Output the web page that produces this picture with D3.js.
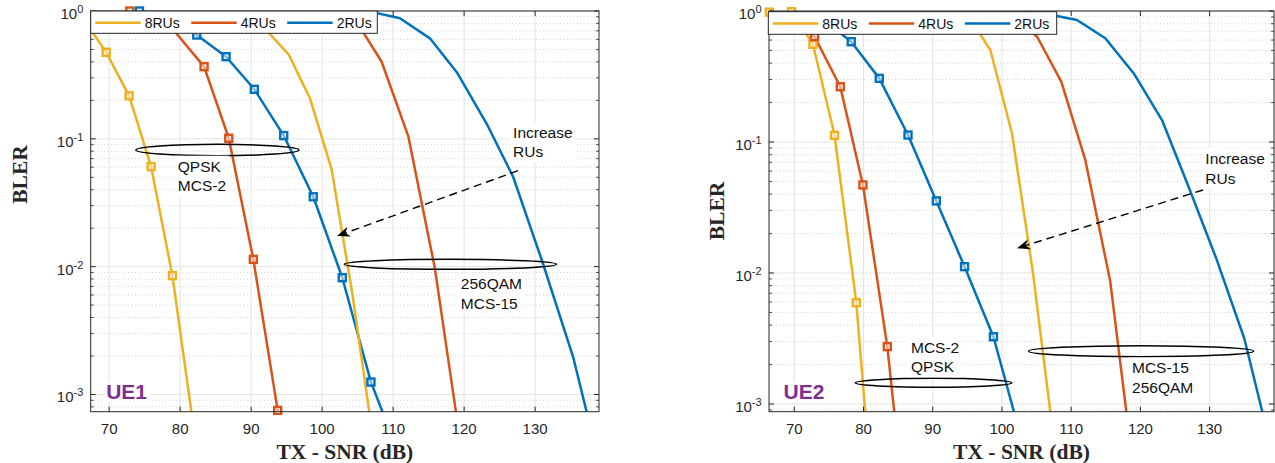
<!DOCTYPE html>
<html>
<head>
<meta charset="utf-8">
<script src="https://cdn.jsdelivr.net/npm/d3@7"></script>
<style>
  body { margin: 0; background: #fff; }
  svg { display: block; }
  text { font-family: "Liberation Sans", Arial, Helvetica, sans-serif; }
</style>
</head>
<body>
<svg id="chart" width="1275" height="463"></svg>
<script>
// ---------------- data ----------------
const seriesNames = ["8RUs", "4RUs", "2RUs"];
const xTicks = [70, 80, 90, 100, 110, 120, 130];
const yTickExps = [0, -1, -2, -3];

// UE1 – QPSK, MCS-2 (square markers)
const ue1_8RUs_mcs2_snr  = [66.5, 69.58, 72.81, 75.91, 78.91, 82.0];
const ue1_8RUs_mcs2_bler = [0.85, 0.475, 0.217, 0.0605, 0.0085, 0.0005];
const ue1_4RUs_mcs2_snr  = [72.91, 76.0, 78.8, 83.37, 86.85, 90.31, 93.74, 97.2];
const ue1_4RUs_mcs2_bler = [1.0, 0.92, 0.74, 0.367, 0.101, 0.0114, 0.00075, 0.00003];
const ue1_2RUs_mcs2_snr  = [74.27, 78.2, 82.34, 86.47, 90.45, 94.59, 98.75, 102.84, 106.88, 110.9];
const ue1_2RUs_mcs2_bler = [1.0, 0.88, 0.649, 0.439, 0.244, 0.106, 0.0352, 0.00819, 0.00125, 0.00033];
// UE1 – 256QAM, MCS-15
const ue1_8RUs_mcs15_snr  = [86.4, 89.4, 92.38, 95.33, 98.29, 101.34, 104.3, 107.26];
const ue1_8RUs_mcs15_bler = [0.99, 0.93, 0.685, 0.453, 0.207, 0.0577, 0.00592, 0.00042];
const ue1_4RUs_mcs15_snr  = [100.9, 104.62, 108.38, 112.13, 115.88, 119.63];
const ue1_4RUs_mcs15_bler = [0.98, 0.865, 0.401, 0.105, 0.0097, 0.00037];
const ue1_2RUs_mcs15_snr  = [102.9, 106.9, 110.96, 115.18, 119.05, 123.2, 126.9, 131.08, 135.35, 139.25];
const ue1_2RUs_mcs15_bler = [1.0, 0.985, 0.877, 0.611, 0.327, 0.1305, 0.0505, 0.01067, 0.00197, 0.00026];

// UE2 – QPSK, MCS-2 (square markers)
const ue2_8RUs_mcs2_snr  = [66.4, 69.62, 72.7, 75.82, 78.96, 82.05];
const ue2_8RUs_mcs2_bler = [0.98, 0.988, 0.557, 0.1125, 0.00593, 0.00006];
const ue2_4RUs_mcs2_snr  = [69.4, 72.93, 76.65, 79.92, 83.44, 86.95];
const ue2_4RUs_mcs2_bler = [0.9, 0.637, 0.264, 0.047, 0.00274, 0.00005];
const ue2_2RUs_mcs2_snr  = [70.0, 74.1, 78.23, 82.28, 86.43, 90.52, 94.6, 98.77, 102.9];
const ue2_2RUs_mcs2_bler = [0.92, 0.87, 0.583, 0.306, 0.113, 0.0355, 0.01117, 0.00326, 0.00052];
// UE2 – 256QAM, MCS-15
const ue2_8RUs_mcs15_snr  = [92.3, 95.3, 98.32, 101.45, 104.46, 107.46];
const ue2_8RUs_mcs15_bler = [0.99, 0.895, 0.504, 0.1165, 0.0102, 0.00055];
const ue2_4RUs_mcs15_snr  = [101.6, 105.1, 108.57, 112.04, 115.65, 119.12];
const ue2_4RUs_mcs15_bler = [0.95, 0.633, 0.289, 0.0729, 0.0086, 0.00028];
const ue2_2RUs_mcs15_snr  = [103.2, 107.23, 110.84, 114.93, 119.02, 123.12, 126.96, 130.97, 135.01, 139.06];
const ue2_2RUs_mcs15_bler = [0.99, 0.932, 0.854, 0.619, 0.335, 0.147, 0.0456, 0.01286, 0.00316, 0.000425];

// ---------------- styling ----------------
const COLORS = { "8RUs": "#EDB120", "4RUs": "#D95319", "2RUs": "#0072BD" };
const INK = "#262626";
const UE_COLOR = "#7E2F8E";
const LINE_W = 2.5;

const svg = d3.select("#chart");
svg.append("rect").attr("width", 1275).attr("height", 463).attr("fill", "#fff");
const defs = svg.append("defs");

const zip = (xs, ys) => xs.map((v, i) => [v, ys[i]]);

function panel(cfg) {
  const box = cfg.box;
  const g = svg.append("g");
  const x = d3.scaleLinear().domain(cfg.xDomain).range([box.left, box.right]);
  const y = d3.scaleLog().domain(cfg.yDomain).range([box.bottom, box.top]);

  const clipId = "clip-" + cfg.id;
  defs.append("clipPath").attr("id", clipId).append("rect")
    .attr("x", box.left).attr("y", box.top)
    .attr("width", box.right - box.left).attr("height", box.bottom - box.top);

  const inY = v => v >= cfg.yDomain[0] * 0.9999 && v <= cfg.yDomain[1] * 1.0001;
  const majorY = yTickExps.map(e => Math.pow(10, e)).filter(inY);
  const minorY = [];
  for (let e = -4; e < 0; e++)
    for (let m = 2; m <= 9; m++) {
      const v = m * Math.pow(10, e);
      if (inY(v)) minorY.push(v);
    }

  // grid
  const grid = g.append("g");
  grid.selectAll(".gmin").data(minorY).join("line")
    .attr("x1", box.left).attr("x2", box.right)
    .attr("y1", d => y(d)).attr("y2", d => y(d))
    .attr("stroke", "#c4c4c4").attr("stroke-width", 0.8).attr("stroke-dasharray", "1,2.4");
  grid.selectAll(".gx").data(xTicks).join("line")
    .attr("x1", d => x(d)).attr("x2", d => x(d))
    .attr("y1", box.top).attr("y2", box.bottom)
    .attr("stroke", "#e3e3e3").attr("stroke-width", 1);
  grid.selectAll(".gy").data(majorY).join("line")
    .attr("x1", box.left).attr("x2", box.right)
    .attr("y1", d => y(d)).attr("y2", d => y(d))
    .attr("stroke", "#e3e3e3").attr("stroke-width", 1);

  // curves
  const line = d3.line().x(d => x(d[0])).y(d => y(d[1]));
  const plot = g.append("g");
  cfg.curves.forEach(c => {
    plot.append("path").datum(c.points)
      .attr("clip-path", `url(#${clipId})`)
      .attr("d", line).attr("fill", "none")
      .attr("stroke", COLORS[c.name]).attr("stroke-width", LINE_W)
      .attr("stroke-linejoin", "round");
  });
  cfg.curves.filter(c => c.markers).forEach(c => {
    const pts = c.points.filter(p => p[0] >= cfg.xDomain[0] && p[0] <= cfg.xDomain[1] && inY(p[1]));
    plot.selectAll(null).data(pts).join("rect")
      .attr("x", d => x(d[0]) - 3.5).attr("y", d => y(d[1]) - 3.5)
      .attr("width", 7).attr("height", 7)
      .attr("fill", "#fff").attr("fill-opacity", 0.5)
      .attr("stroke", COLORS[c.name]).attr("stroke-width", 2.4);
  });

  // axes box + ticks
  const ax = g.append("g").attr("stroke", INK);
  ax.append("rect")
    .attr("x", box.left).attr("y", box.top)
    .attr("width", box.right - box.left).attr("height", box.bottom - box.top)
    .attr("fill", "none").attr("stroke-width", 1);
  xTicks.forEach(t => {
    ax.append("line").attr("x1", x(t)).attr("x2", x(t)).attr("y1", box.bottom).attr("y2", box.bottom - 5);
    ax.append("line").attr("x1", x(t)).attr("x2", x(t)).attr("y1", box.top).attr("y2", box.top + 5);
  });
  majorY.forEach(t => {
    ax.append("line").attr("x1", box.left).attr("x2", box.left + 5).attr("y1", y(t)).attr("y2", y(t));
    ax.append("line").attr("x1", box.right).attr("x2", box.right - 5).attr("y1", y(t)).attr("y2", y(t));
  });
  minorY.forEach(t => {
    ax.append("line").attr("x1", box.left).attr("x2", box.left + 3).attr("y1", y(t)).attr("y2", y(t)).attr("stroke-width", 0.8);
    ax.append("line").attr("x1", box.right).attr("x2", box.right - 3).attr("y1", y(t)).attr("y2", y(t)).attr("stroke-width", 0.8);
  });

  // tick labels
  g.selectAll(".xl").data(xTicks).join("text")
    .attr("x", d => x(d)).attr("y", box.bottom + 22.5)
    .attr("text-anchor", "middle").attr("font-size", 15).attr("fill", INK)
    .text(d => d);
  yTickExps.filter(e => inY(Math.pow(10, e))).forEach(e => {
    const t = g.append("text")
      .attr("x", box.left - 7.4).attr("y", y(Math.pow(10, e)) + 8)
      .attr("text-anchor", "end").attr("fill", INK);
    t.append("tspan").attr("font-size", 15).text("10");
    t.append("tspan").attr("font-size", 11).attr("dy", -6).text(String(e));
  });

  // axis titles
  g.append("text")
    .attr("x", (box.left + box.right) / 2).attr("y", box.bottom + 47.5)
    .attr("text-anchor", "middle")
    .style("font-family", '"Liberation Serif", "Times New Roman", serif')
    .attr("font-weight", "bold").attr("font-size", 21.5).attr("fill", INK)
    .text("TX - SNR (dB)");
  g.append("text")
    .attr("transform", `translate(${cfg.yTitle[0] + 7.5},${cfg.yTitle[1]}) rotate(-90)`)
    .attr("text-anchor", "middle")
    .style("font-family", '"Liberation Serif", "Times New Roman", serif')
    .attr("font-weight", "bold").attr("font-size", 21.5).attr("fill", INK)
    .text("BLER");

  // annotations
  const notes = g.append("g");
  cfg.ellipses.forEach(e => {
    notes.append("ellipse")
      .attr("cx", (x(e.x0) + x(e.x1)) / 2).attr("cy", y(e.yc))
      .attr("rx", (x(e.x1) - x(e.x0)) / 2).attr("ry", e.ry)
      .attr("fill", "none").attr("stroke", "#000").attr("stroke-width", 1.5);
  });

  // dashed arrow
  const a = cfg.arrow;
  const sx = x(a.from[0]), sy = y(a.from[1]), tx = x(a.to[0]), ty = y(a.to[1]);
  const len = Math.hypot(tx - sx, ty - sy);
  const ux = (tx - sx) / len, uy = (ty - sy) / len, nx = -uy, ny = ux;
  const HL = 13, HW = 5.2, NOTCH = 4;
  notes.append("line")
    .attr("x1", sx).attr("y1", sy)
    .attr("x2", tx - ux * (HL - NOTCH)).attr("y2", ty - uy * (HL - NOTCH))
    .attr("stroke", "#000").attr("stroke-width", 1.4).attr("stroke-dasharray", "8,5");
  notes.append("path")
    .attr("d", `M${tx},${ty} L${tx - ux * HL + nx * HW},${ty - uy * HL + ny * HW} L${tx - ux * (HL - NOTCH)},${ty - uy * (HL - NOTCH)} L${tx - ux * HL - nx * HW},${ty - uy * HL - ny * HW} Z`)
    .attr("fill", "#000");

  // text boxes with white background
  cfg.texts.forEach(tb => {
    const tg = notes.append("g");
    const bg = tg.append("rect").attr("fill", "#fff");
    const t = tg.append("text")
      .attr("x", x(tb.x)).attr("y", y(tb.y))
      .attr("font-size", 15.5).attr("fill", "#111");
    tb.lines.forEach((s, i) => {
      t.append("tspan").attr("x", x(tb.x)).attr("dy", i === 0 ? 0 : 19.5).text(s);
    });
    const bb = t.node().getBBox();
    bg.attr("x", bb.x - 3).attr("y", bb.y - 2).attr("width", bb.width + 6).attr("height", bb.height + 4);
  });

  const lg = notes.append("g");
  const lbg = lg.append("rect").attr("fill", "#fff");
  const lt = lg.append("text")
    .attr("x", x(cfg.label.x)).attr("y", y(cfg.label.y))
    .attr("font-size", 21).attr("font-weight", "bold").attr("fill", UE_COLOR)
    .text(cfg.label.text);
  const lb = lt.node().getBBox();
  lbg.attr("x", lb.x - 2).attr("y", lb.y + 2).attr("width", lb.width + 4).attr("height", lb.height - 3);

  // legend
  const L = cfg.legend;
  const leg = g.append("g");
  leg.append("rect")
    .attr("x", L.left).attr("y", L.top).attr("width", L.width).attr("height", L.height)
    .attr("fill", "#fff").attr("stroke", INK).attr("stroke-width", 1);
  seriesNames.forEach((n, i) => {
    const x0 = L.left + 4.5 + i * 96;
    const ym = L.top + L.height / 2 + 0.5;
    leg.append("line").attr("x1", x0).attr("x2", x0 + 45.5).attr("y1", ym).attr("y2", ym)
      .attr("stroke", COLORS[n]).attr("stroke-width", LINE_W);
    leg.append("text").attr("x", x0 + 49.5).attr("y", ym + 5)
      .attr("font-size", 14).attr("fill", "#111").text(n);
  });
}

// ---------------- panels ----------------
panel({
  id: "ue1",
  box: { left: 90.7, right: 599, top: 11, bottom: 411.7 },
  xDomain: [67.4, 139],
  yDomain: [Math.pow(10, -3.135), 1],
  yTitle: [19, 174.5],
  curves: [
    { name: "8RUs", markers: true,  points: zip(ue1_8RUs_mcs2_snr, ue1_8RUs_mcs2_bler) },
    { name: "4RUs", markers: true,  points: zip(ue1_4RUs_mcs2_snr, ue1_4RUs_mcs2_bler) },
    { name: "2RUs", markers: true,  points: zip(ue1_2RUs_mcs2_snr, ue1_2RUs_mcs2_bler) },
    { name: "8RUs", markers: false, points: zip(ue1_8RUs_mcs15_snr, ue1_8RUs_mcs15_bler) },
    { name: "4RUs", markers: false, points: zip(ue1_4RUs_mcs15_snr, ue1_4RUs_mcs15_bler) },
    { name: "2RUs", markers: false, points: zip(ue1_2RUs_mcs15_snr, ue1_2RUs_mcs15_bler) }
  ],
  ellipses: [
    { x0: 73.76, x1: 96.74, yc: 0.0817, ry: 5.7 },
    { x0: 103.12, x1: 133.01, yc: 0.01042, ry: 5 }
  ],
  texts: [
    { x: 79.67, y: 0.0553, lines: ["QPSK", "MCS-2"] },
    { x: 119.54, y: 0.00664, lines: ["256QAM", "MCS-15"] },
    { x: 126.9, y: 0.102, lines: ["Increase", "RUs"] }
  ],
  arrow: { from: [127.6, 0.0563], to: [102.09, 0.01735] },
  label: { x: 69.58, y: 9.2e-4, text: "UE1" },
  legend: { left: 90.7, top: 11, width: 286.6, height: 22.3 }
});

panel({
  id: "ue2",
  box: { left: 769, right: 1274, top: 11, bottom: 411.7 },
  xDomain: [66.35, 139.3],
  yDomain: [Math.pow(10, -3.059), 1],
  yTitle: [716.7, 211],
  curves: [
    { name: "8RUs", markers: true,  points: zip(ue2_8RUs_mcs2_snr, ue2_8RUs_mcs2_bler) },
    { name: "4RUs", markers: true,  points: zip(ue2_4RUs_mcs2_snr, ue2_4RUs_mcs2_bler) },
    { name: "2RUs", markers: true,  points: zip(ue2_2RUs_mcs2_snr, ue2_2RUs_mcs2_bler) },
    { name: "8RUs", markers: false, points: zip(ue2_8RUs_mcs15_snr, ue2_8RUs_mcs15_bler) },
    { name: "4RUs", markers: false, points: zip(ue2_4RUs_mcs15_snr, ue2_4RUs_mcs15_bler) },
    { name: "2RUs", markers: false, points: zip(ue2_2RUs_mcs15_snr, ue2_2RUs_mcs15_bler) }
  ],
  ellipses: [
    { x0: 78.81, x1: 101.45, yc: 0.00145, ry: 4.5 },
    { x0: 103.85, x1: 136.35, yc: 0.00253, ry: 5.5 }
  ],
  texts: [
    { x: 86.86, y: 0.00246, lines: ["MCS-2", "QPSK"] },
    { x: 118.79, y: 0.00171, lines: ["MCS-15", "256QAM"] },
    { x: 129.38, y: 0.0679, lines: ["Increase", "RUs"] }
  ],
  arrow: { from: [129.04, 0.043], to: [102.17, 0.01544] },
  label: { x: 68.45, y: 0.00109, text: "UE2" },
  legend: { left: 768.3, top: 11.7, width: 288.4, height: 22.6 }
});
</script>
</body>
</html>
